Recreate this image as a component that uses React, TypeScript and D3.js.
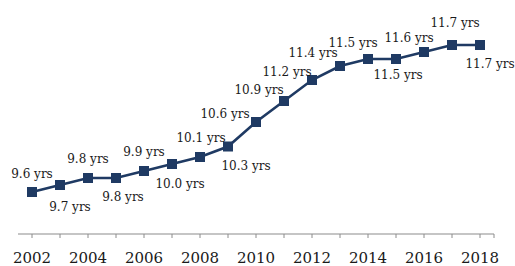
import React from "react";
import * as d3 from "d3";

const years = ["2002","2003","2004","2005","2006","2007","2008","2009","2010","2011","2012","2013","2014","2015","2016","2017","2018"];
const values = [9.6, 9.7, 9.8, 9.8, 9.9, 10.0, 10.1, 10.25, 10.6, 10.9, 11.2, 11.4, 11.5, 11.5, 11.6, 11.7, 11.7];
const labels = ["9.6 yrs","9.7 yrs","9.8 yrs","9.8 yrs","9.9 yrs","10.0 yrs","10.1 yrs","10.3 yrs","10.6 yrs","10.9 yrs","11.2 yrs","11.4 yrs","11.5 yrs","11.5 yrs","11.6 yrs","11.7 yrs","11.7 yrs"];
const tickLabels = ["2002","2004","2006","2008","2010","2012","2014","2016","2018"];

// label placement (layout only): offset of label centre from marker
const labelOffsets: [number, number][] = [
  [0,-18],[10,22],[0,-19],[7,19],[0,-19],[8,20],[1,-19],[18,19],
  [-31,-8],[-25,-11],[-25,-8],[-27,-13],[-15,-16],[2,16],[-15,-14],[3,-22],[10,19]
];

const W = 515, H = 266;
const LINE = "#1F3A63";

export default function App() {
  const x = d3.scaleBand<string>().domain(years).range([18, 494]).paddingInner(0).paddingOuter(0);
  const y = d3.scaleLinear().domain([9, 12]).range([234, 24]);
  const cx = (yr: string) => (x(yr) as number) + x.bandwidth() / 2;
  const pts = years.map((yr, i) => [cx(yr), y(values[i])] as [number, number]);
  const line = d3.line();
  const axisY = y(9);
  const font = "'DejaVu Serif', serif";
  return (
    <svg width={W} height={H} style={{ position: "absolute", left: 0, top: 0, background: "#fff" }}>
      <line x1={18} x2={494} y1={axisY} y2={axisY} stroke="#8c8c8c" strokeWidth={1.2} />
      {years.map((yr) => (
        <line key={"t" + yr} x1={cx(yr)} x2={cx(yr)} y1={axisY} y2={axisY + 4} stroke="#8c8c8c" strokeWidth={1} />
      ))}
      <line x1={494} x2={494} y1={axisY} y2={axisY + 4} stroke="#8c8c8c" strokeWidth={1} />
      {tickLabels.map((t) => (
        <text key={"l" + t} x={cx(t)} y={axisY + 29} textAnchor="middle" fontFamily={font} fontSize={15} fill="#1a1a1a">{t}</text>
      ))}
      <path d={line(pts) || ""} fill="none" stroke={LINE} strokeWidth={2.6} />
      {pts.map(([px, py], i) => (
        <rect key={"m" + i} x={px - 5} y={py - 5} width={10} height={10} fill={LINE} />
      ))}
      {pts.map(([px, py], i) => (
        <text key={"d" + i} x={px + labelOffsets[i][0]} y={py + labelOffsets[i][1]} dy="0.35em" textAnchor="middle" fontFamily={font} fontSize={12} fill="#1a1a1a">{labels[i]}</text>
      ))}
    </svg>
  );
}
